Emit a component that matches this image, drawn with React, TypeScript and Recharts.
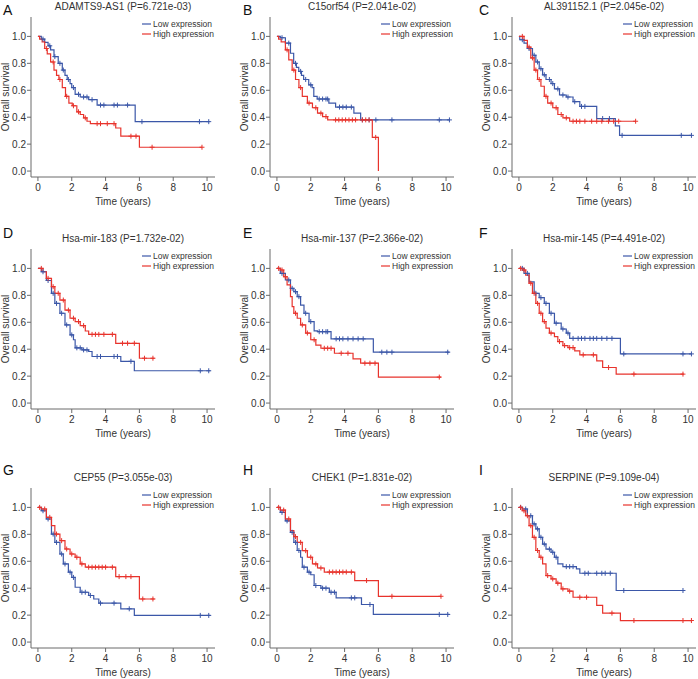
import { ComposedChart, Line, Scatter, XAxis, YAxis } from "recharts";

type Pt = [number, number];

// step points [time, survival after event] and censor times
const A_LOW: Pt[] = [[0, 1], [0.2, 0.98], [0.4, 0.955], [0.6, 0.93], [0.75, 0.9], [0.95, 0.85], [1.2, 0.8], [1.44, 0.75], [1.6, 0.71], [1.73, 0.68], [1.9, 0.65], [2.0, 0.62], [2.2, 0.57], [2.5, 0.55], [3.0, 0.53], [3.5, 0.49], [5.75, 0.367], [10.15, 0.367]];
const A_LOW_CENS = [0.3, 0.7, 1.0, 1.3, 1.5, 1.8, 2.1, 2.4, 2.7, 2.9, 3.2, 3.7, 3.9, 4.5, 4.7, 5.3, 6.15, 9.55, 10.1];
const A_HIGH: Pt[] = [[0, 1], [0.1, 0.98], [0.25, 0.96], [0.4, 0.91], [0.55, 0.87], [0.75, 0.81], [0.95, 0.75], [1.1, 0.71], [1.24, 0.68], [1.44, 0.62], [1.63, 0.555], [1.83, 0.505], [2.03, 0.485], [2.3, 0.44], [2.5, 0.42], [2.7, 0.395], [2.9, 0.37], [3.1, 0.352], [4.6, 0.32], [4.9, 0.259], [6.0, 0.177], [9.7, 0.177]];
const A_HIGH_CENS = [0.5, 0.9, 1.3, 1.7, 2.1, 2.4, 2.8, 3.5, 3.7, 4.1, 4.5, 5.5, 5.8, 6.75, 9.7];

const B_LOW: Pt[] = [[0, 1], [0.2, 0.99], [0.5, 0.95], [0.8, 0.875], [0.99, 0.8], [1.15, 0.77], [1.29, 0.74], [1.45, 0.71], [1.58, 0.68], [1.88, 0.64], [2.08, 0.62], [2.18, 0.555], [2.38, 0.535], [3.07, 0.505], [3.47, 0.475], [4.55, 0.43], [4.95, 0.38], [10.2, 0.38]];
const B_LOW_CENS = [0.3, 0.7, 1.1, 1.4, 1.7, 2.0, 2.5, 2.7, 2.9, 3.0, 3.7, 3.9, 4.1, 4.4, 5.05, 5.45, 5.85, 6.8, 9.6, 10.2];
const B_HIGH: Pt[] = [[0, 1], [0.1, 0.98], [0.25, 0.96], [0.5, 0.9], [0.7, 0.825], [0.9, 0.75], [1.1, 0.68], [1.3, 0.62], [1.5, 0.555], [1.8, 0.505], [2.1, 0.47], [2.4, 0.43], [2.7, 0.405], [3.0, 0.38], [5.64, 0.25], [6.0, 0]];
const B_HIGH_CENS = [0.6, 1.0, 1.4, 1.9, 2.3, 2.6, 2.9, 3.47, 3.66, 3.86, 4.06, 4.26, 4.46, 4.65, 5.05, 5.25, 5.45, 5.84];

const C_LOW: Pt[] = [[0, 1], [0.05, 0.975], [0.3, 0.95], [0.5, 0.91], [0.8, 0.86], [1.0, 0.81], [1.2, 0.76], [1.4, 0.715], [1.6, 0.68], [1.9, 0.65], [2.1, 0.61], [2.4, 0.565], [2.8, 0.55], [3.2, 0.515], [3.6, 0.48], [4.6, 0.39], [5.7, 0.335], [5.95, 0.265], [10.2, 0.265]];
const C_LOW_CENS = [0.2, 0.6, 0.9, 1.1, 1.3, 1.5, 1.8, 2.0, 2.3, 2.6, 2.9, 3.3, 3.7, 3.9, 4.95, 5.35, 6.1, 9.6, 10.2];
const C_HIGH: Pt[] = [[0, 1], [0.3, 0.97], [0.5, 0.92], [0.7, 0.84], [0.9, 0.75], [1.1, 0.68], [1.3, 0.63], [1.5, 0.555], [1.7, 0.505], [2.0, 0.47], [2.3, 0.42], [2.6, 0.395], [3.0, 0.37], [6.9, 0.37]];
const C_HIGH_CENS = [0.2, 0.6, 0.8, 1.0, 1.2, 1.6, 1.9, 2.2, 2.5, 2.8, 3.2, 3.4, 3.6, 3.9, 4.3, 4.6, 4.9, 5.3, 5.6, 5.9, 6.9];

const D_LOW: Pt[] = [[0, 1], [0.2, 0.975], [0.5, 0.91], [0.8, 0.815], [1.0, 0.74], [1.3, 0.667], [1.6, 0.58], [1.9, 0.506], [2.1, 0.47], [2.2, 0.41], [2.6, 0.395], [3.0, 0.383], [3.2, 0.346], [4.9, 0.31], [5.7, 0.24], [10.2, 0.24]];
const D_LOW_CENS = [0.3, 0.6, 0.9, 1.1, 1.4, 1.7, 2.0, 2.3, 2.5, 2.7, 2.9, 3.5, 3.7, 4.5, 4.7, 5.5, 9.6, 10.1];
const D_HIGH: Pt[] = [[0, 1], [0.3, 0.975], [0.5, 0.926], [0.8, 0.864], [1.0, 0.815], [1.3, 0.765], [1.6, 0.69], [1.9, 0.63], [2.2, 0.605], [2.5, 0.575], [2.8, 0.535], [3.0, 0.51], [4.6, 0.444], [6.0, 0.333], [6.9, 0.333]];
const D_HIGH_CENS = [0.2, 0.6, 0.9, 1.2, 1.5, 1.8, 2.1, 2.4, 2.7, 3.2, 3.4, 3.6, 3.9, 4.4, 5.0, 5.3, 5.7, 6.3, 6.8];

const E_LOW: Pt[] = [[0, 1], [0.2, 0.963], [0.5, 0.914], [0.8, 0.852], [1.0, 0.827], [1.2, 0.79], [1.4, 0.728], [1.6, 0.667], [1.9, 0.605], [2.2, 0.536], [2.4, 0.53], [3.2, 0.477], [5.7, 0.378], [10.2, 0.378]];
const E_LOW_CENS = [0.3, 0.7, 0.9, 1.1, 1.3, 1.7, 2.0, 2.5, 2.7, 2.9, 3.0, 3.5, 3.7, 3.9, 4.2, 4.5, 4.8, 5.1, 6.2, 6.5, 6.8, 10.1];
const E_HIGH: Pt[] = [[0, 1], [0.2, 0.988], [0.4, 0.938], [0.6, 0.877], [0.8, 0.79], [0.9, 0.716], [1.0, 0.667], [1.2, 0.63], [1.4, 0.58], [1.7, 0.52], [2.0, 0.47], [2.3, 0.43], [2.6, 0.407], [3.4, 0.37], [4.5, 0.328], [4.95, 0.296], [6.0, 0.193], [9.7, 0.193]];
const E_HIGH_CENS = [0.1, 0.3, 0.5, 1.1, 1.5, 1.8, 2.2, 2.8, 3.0, 3.2, 3.8, 4.2, 5.2, 5.5, 5.8, 9.6];

const F_LOW: Pt[] = [[0, 1], [0.3, 0.963], [0.6, 0.9], [0.9, 0.815], [1.2, 0.783], [1.5, 0.74], [1.8, 0.667], [2.1, 0.593], [2.5, 0.55], [2.8, 0.52], [3.0, 0.48], [6.0, 0.365], [10.2, 0.365]];
const F_LOW_CENS = [0.2, 0.5, 1.0, 1.3, 1.6, 1.9, 2.2, 2.6, 2.9, 3.2, 3.5, 3.7, 3.9, 4.2, 4.4, 4.6, 4.9, 5.2, 5.5, 6.2, 9.7, 10.2];
const F_HIGH: Pt[] = [[0, 1], [0.2, 0.988], [0.4, 0.95], [0.6, 0.89], [0.8, 0.815], [1.0, 0.74], [1.2, 0.667], [1.4, 0.605], [1.6, 0.556], [1.8, 0.52], [2.1, 0.494], [2.3, 0.457], [2.6, 0.427], [2.9, 0.412], [3.3, 0.388], [3.6, 0.358], [4.6, 0.314], [4.95, 0.264], [5.75, 0.215], [9.75, 0.215]];
const F_HIGH_CENS = [0.1, 0.3, 0.7, 0.9, 1.1, 1.3, 1.5, 1.9, 2.4, 2.7, 3.0, 3.2, 3.8, 4.4, 5.3, 6.8, 9.7];

const G_LOW: Pt[] = [[0, 1], [0.2, 0.975], [0.5, 0.914], [0.8, 0.802], [1.0, 0.74], [1.3, 0.654], [1.5, 0.58], [1.8, 0.519], [2.0, 0.48], [2.2, 0.407], [2.5, 0.37], [3.0, 0.346], [3.3, 0.32], [3.6, 0.289], [4.9, 0.247], [5.7, 0.198], [10.2, 0.198]];
const G_LOW_CENS = [0.3, 0.6, 0.9, 1.1, 1.4, 1.6, 1.9, 2.1, 2.6, 2.8, 3.1, 3.7, 4.5, 5.4, 9.6, 10.1];
const G_HIGH: Pt[] = [[0, 1], [0.2, 0.988], [0.5, 0.926], [0.8, 0.864], [1.0, 0.802], [1.3, 0.753], [1.6, 0.691], [1.9, 0.654], [2.2, 0.63], [2.5, 0.58], [2.8, 0.556], [4.6, 0.486], [6.0, 0.32], [6.9, 0.32]];
const G_HIGH_CENS = [0.1, 0.4, 0.7, 1.1, 1.4, 1.7, 2.0, 2.3, 2.6, 3.0, 3.2, 3.4, 3.6, 3.8, 4.0, 4.4, 4.8, 5.2, 5.5, 6.2, 6.8];

const H_LOW: Pt[] = [[0, 1], [0.2, 0.963], [0.5, 0.9], [0.8, 0.815], [1.0, 0.74], [1.2, 0.68], [1.4, 0.63], [1.5, 0.556], [1.8, 0.519], [2.0, 0.5], [2.2, 0.42], [2.6, 0.4], [3.1, 0.37], [3.5, 0.328], [5.0, 0.279], [5.7, 0.205], [10.2, 0.205]];
const H_LOW_CENS = [0.3, 0.6, 0.9, 1.1, 1.3, 1.6, 1.9, 2.3, 2.7, 2.9, 3.2, 3.4, 4.4, 4.6, 5.5, 9.6, 10.1];
const H_HIGH: Pt[] = [[0, 1], [0.2, 0.98], [0.5, 0.914], [0.8, 0.827], [1.0, 0.783], [1.2, 0.74], [1.5, 0.679], [1.8, 0.63], [2.1, 0.58], [2.4, 0.55], [2.8, 0.52], [4.6, 0.457], [6.0, 0.34], [9.7, 0.34]];
const H_HIGH_CENS = [0.1, 0.4, 0.7, 1.1, 1.4, 1.7, 2.0, 2.3, 2.6, 3.1, 3.3, 3.5, 3.7, 3.9, 4.1, 4.4, 5.3, 6.8, 9.7];

const I_LOW: Pt[] = [[0, 1], [0.2, 0.988], [0.5, 0.938], [0.8, 0.877], [1.0, 0.84], [1.2, 0.778], [1.4, 0.728], [1.6, 0.69], [1.9, 0.667], [2.1, 0.63], [2.3, 0.58], [2.6, 0.56], [3.4, 0.543], [3.6, 0.511], [5.75, 0.383], [9.7, 0.383]];
const I_LOW_CENS = [0.1, 0.4, 0.7, 0.9, 1.1, 1.3, 1.5, 1.8, 2.0, 2.2, 2.8, 3.0, 3.2, 3.9, 4.1, 4.6, 4.9, 5.1, 5.4, 6.2, 9.7];
const I_HIGH: Pt[] = [[0, 1], [0.2, 0.975], [0.4, 0.938], [0.6, 0.864], [0.8, 0.778], [1.0, 0.68], [1.2, 0.63], [1.4, 0.58], [1.6, 0.494], [1.9, 0.469], [2.2, 0.437], [2.5, 0.395], [2.9, 0.378], [3.2, 0.333], [4.6, 0.272], [4.95, 0.215], [6.0, 0.16], [10.2, 0.16]];
const I_HIGH_CENS = [0.1, 0.3, 0.5, 0.7, 0.9, 1.1, 1.3, 1.7, 2.0, 2.3, 2.6, 3.0, 3.6, 4.0, 5.5, 6.8, 9.7, 10.2];

const LETTERS = ["A", "B", "C", "D", "E", "F", "G", "H", "I"];
const TITLES = [
  "ADAMTS9-AS1 (P=6.721e-03)",
  "C15orf54 (P=2.041e-02)",
  "AL391152.1 (P=2.045e-02)",
  "Hsa-mir-183 (P=1.732e-02)",
  "Hsa-mir-137 (P=2.366e-02)",
  "Hsa-mir-145 (P=4.491e-02)",
  "CEP55 (P=3.055e-03)",
  "CHEK1 (P=1.831e-02)",
  "SERPINE (P=9.109e-04)"
];
const X_TICKS = [0, 2, 4, 6, 8, 10];
const Y_TICKS = [0, 0.2, 0.4, 0.6, 0.8, 1.0];
const SERIES_NAMES = ["Low expression", "High expression"];

const PANELS = [
  { low: A_LOW, lowCens: A_LOW_CENS, high: A_HIGH, highCens: A_HIGH_CENS },
  { low: B_LOW, lowCens: B_LOW_CENS, high: B_HIGH, highCens: B_HIGH_CENS },
  { low: C_LOW, lowCens: C_LOW_CENS, high: C_HIGH, highCens: C_HIGH_CENS },
  { low: D_LOW, lowCens: D_LOW_CENS, high: D_HIGH, highCens: D_HIGH_CENS },
  { low: E_LOW, lowCens: E_LOW_CENS, high: E_HIGH, highCens: E_HIGH_CENS },
  { low: F_LOW, lowCens: F_LOW_CENS, high: F_HIGH, highCens: F_HIGH_CENS },
  { low: G_LOW, lowCens: G_LOW_CENS, high: G_HIGH, highCens: G_HIGH_CENS },
  { low: H_LOW, lowCens: H_LOW_CENS, high: H_HIGH, highCens: H_HIGH_CENS },
  { low: I_LOW, lowCens: I_LOW_CENS, high: I_HIGH, highCens: I_HIGH_CENS }
];

// layout
const X_DOMAIN: [number, number] = [-0.41, 10.47];
const Y_DOMAIN: [number, number] = [-0.044, 1.144];
const Y_AXIS_W = 31;
const PLOT_W = 184;
const PLOT_H = 160;
const TOP = 30;
const RIGHT = 3;
const BOTTOM = 32;
const COL_LEFT = [31, 270, 512];
const ROW_TOP = [17, 249, 488];
const LETTER_X = [3, 243, 479];
const LETTER_BASE = [15, 238, 475];

const BLUE = "#3b57a8";
const RED = "#e8332c";
const INK = "#333";
const FRAME = "#6a6a6a";
const FONT = "'Liberation Sans', Arial, Helvetica, sans-serif";

function survAt(steps: Pt[], t: number) {
  let v = steps[0][1];
  for (const [x, y] of steps) {
    if (x <= t) v = y;
    else break;
  }
  return v;
}

const toRows = (steps: Pt[]) => steps.map(([t, s]) => ({ t, s }));
const censRows = (steps: Pt[], times: number[]) => times.map((t) => ({ t, s: survAt(steps, t) }));

function plus(color: string) {
  return (props: any) => {
    const { cx, cy } = props;
    if (cx == null || cy == null) return <g />;
    return (
      <path
        d={`M${cx - 2.5},${cy}H${cx + 2.5}M${cx},${cy - 2.5}V${cy + 2.5}`}
        stroke={color}
        strokeWidth={1}
        fill="none"
      />
    );
  };
}

function KMPanel({ index }: { index: number }) {
  const p = PANELS[index];
  const boxRight = Y_AXIS_W + PLOT_W;
  const cx = Y_AXIS_W + PLOT_W / 2;
  const frameLine = { stroke: FRAME, strokeWidth: 1 };

  return (
    <ComposedChart
      width={Y_AXIS_W + PLOT_W + RIGHT}
      height={TOP + PLOT_H + BOTTOM}
      margin={{ top: TOP, right: RIGHT, bottom: 0, left: 0 }}
      style={{ fontFamily: FONT }}
    >
      <XAxis
        dataKey="t"
        type="number"
        domain={X_DOMAIN}
        ticks={X_TICKS}
        interval={0}
        allowDataOverflow
        axisLine={frameLine}
        tickSize={4}
        tickMargin={3}
        tickLine={{ stroke: FRAME }}
        tick={{ fontSize: 10, fill: INK }}
        height={BOTTOM}
      />
      {/* top edge of the frame */}
      <XAxis
        xAxisId="top"
        orientation="top"
        type="number"
        domain={X_DOMAIN}
        allowDataOverflow
        axisLine={frameLine}
        tick={false}
        tickLine={false}
        height={0}
      />
      <YAxis
        dataKey="s"
        type="number"
        domain={Y_DOMAIN}
        ticks={Y_TICKS}
        interval={0}
        allowDataOverflow
        axisLine={frameLine}
        tickSize={4}
        tickMargin={1}
        tickLine={{ stroke: FRAME }}
        tick={{ fontSize: 10, fill: INK }}
        tickFormatter={(v: number) => v.toFixed(1)}
        width={Y_AXIS_W}
      />
      {/* right edge of the frame */}
      <YAxis
        yAxisId="right"
        orientation="right"
        type="number"
        domain={Y_DOMAIN}
        allowDataOverflow
        axisLine={frameLine}
        tick={false}
        tickLine={false}
        width={0}
      />
      <Line
        data={toRows(p.low)}
        dataKey="s"
        type="stepAfter"
        stroke={BLUE}
        strokeWidth={1.2}
        dot={false}
        activeDot={false}
        isAnimationActive={false}
      />
      <Line
        data={toRows(p.high)}
        dataKey="s"
        type="stepAfter"
        stroke={RED}
        strokeWidth={1.2}
        dot={false}
        activeDot={false}
        isAnimationActive={false}
      />
      <Scatter data={censRows(p.low, p.lowCens)} dataKey="s" shape={plus(BLUE)} isAnimationActive={false} />
      <Scatter data={censRows(p.high, p.highCens)} dataKey="s" shape={plus(RED)} isAnimationActive={false} />

      <text x={cx} y={TOP - 7.5} textAnchor="middle" fontSize={10} fill={INK}>
        {TITLES[index]}
      </text>
      <text
        x={9}
        y={TOP + PLOT_H / 2}
        transform={`rotate(-90 9 ${TOP + PLOT_H / 2})`}
        textAnchor="middle"
        fontSize={10}
        fill={INK}
      >
        Overall survival
      </text>
      <text x={cx} y={TOP + PLOT_H + 27.7} textAnchor="middle" fontSize={10} fill={INK}>
        Time (years)
      </text>
      {SERIES_NAMES.map((name, i) => (
        <g key={name}>
          <line
            x1={boxRight - 73}
            x2={boxRight - 64}
            y1={TOP + 7 + i * 10}
            y2={TOP + 7 + i * 10}
            stroke={i === 0 ? BLUE : RED}
            strokeWidth={1.2}
          />
          <text x={boxRight - 62} y={TOP + 7 + i * 10} dy="0.35em" fontSize={8.5} fill={INK}>
            {name}
          </text>
        </g>
      ))}
    </ComposedChart>
  );
}

export default function App() {
  return (
    <div
      style={{
        position: "absolute",
        left: 0,
        top: 0,
        width: 698,
        height: 679,
        overflow: "hidden",
        background: "#fff",
        fontFamily: FONT
      }}
    >
      {PANELS.map((_, i) => {
        const col = i % 3;
        const row = Math.floor(i / 3);
        return (
          <div key={i}>
            <div
              style={{
                position: "absolute",
                left: COL_LEFT[col] - Y_AXIS_W,
                top: ROW_TOP[row] - TOP
              }}
            >
              <KMPanel index={i} />
            </div>
            <div
              style={{
                position: "absolute",
                left: LETTER_X[col],
                top: LETTER_BASE[row] - 11.6,
                fontSize: 14,
                lineHeight: 1,
                color: "#111"
              }}
            >
              {LETTERS[i]}
            </div>
          </div>
        );
      })}
    </div>
  );
}
